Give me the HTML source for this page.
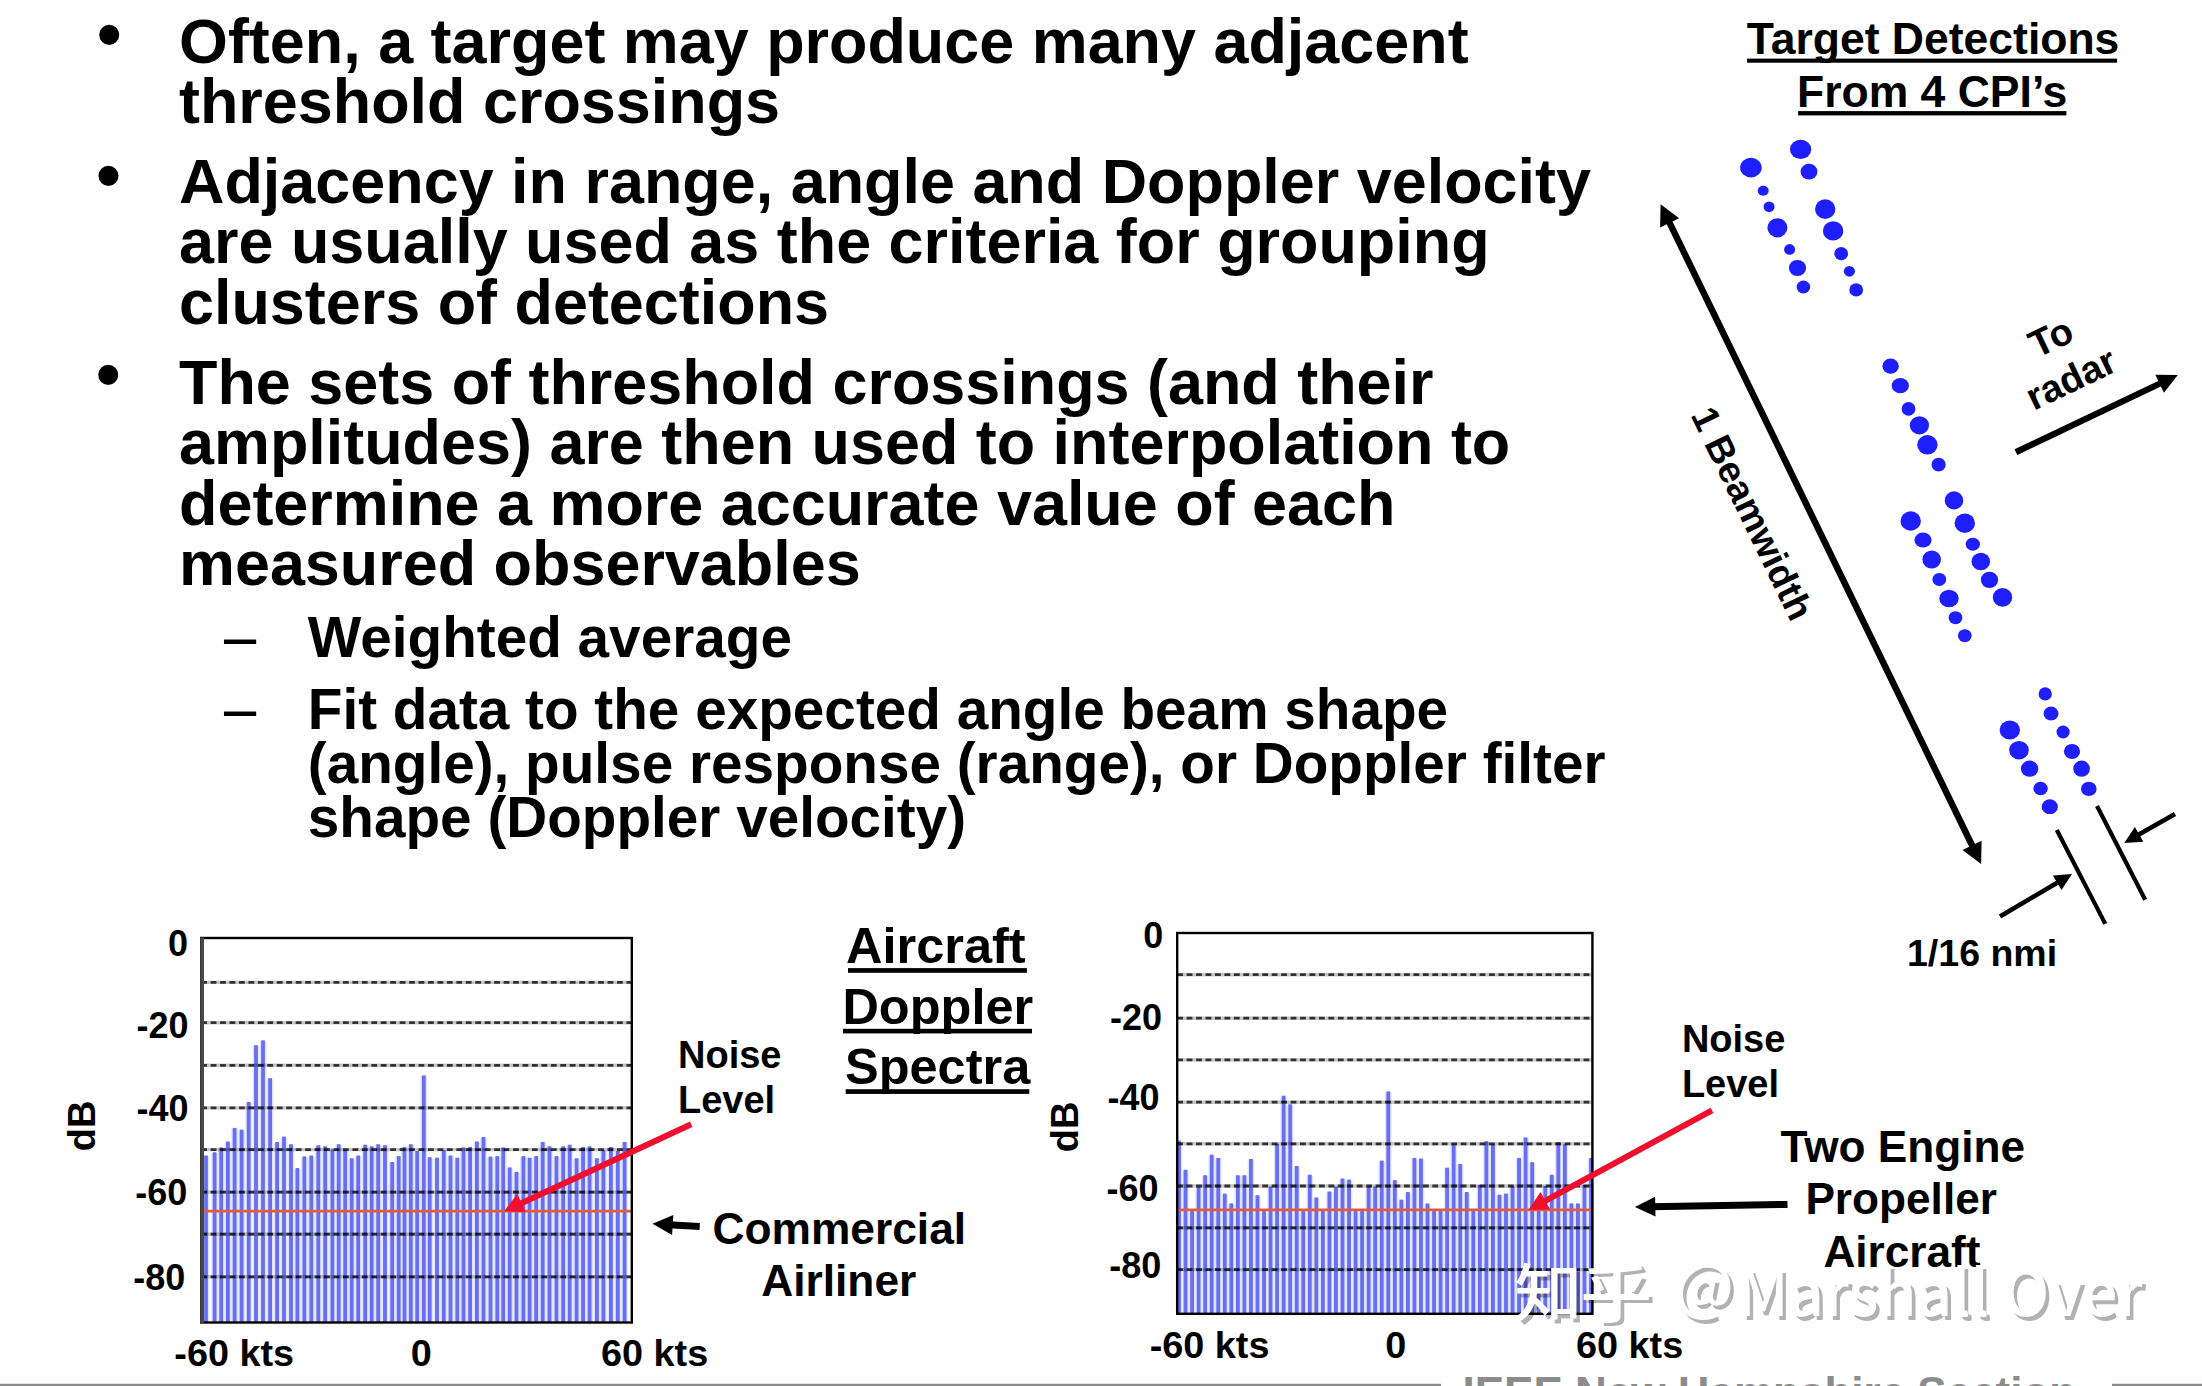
<!DOCTYPE html>
<html><head><meta charset="utf-8"><title>Target Detections</title>
<style>html,body{margin:0;padding:0;background:#fff;width:2202px;height:1386px;overflow:hidden}svg{display:block}</style>
</head><body>
<svg width="2202" height="1386" viewBox="0 0 2202 1386">
<defs><clipPath id="dclip"><rect x="2030" y="790" width="40" height="24"/></clipPath></defs>
<rect width="2202" height="1386" fill="#fff"/>
<rect x="202.64" y="1156.5" width="6.72" height="166.0" fill="#dfe5ff"/><rect x="211.24" y="1153.3" width="6.72" height="169.2" fill="#dfe5ff"/><rect x="217.84" y="1148.4" width="6.72" height="174.1" fill="#dfe5ff"/><rect x="224.54" y="1142.5" width="6.72" height="180.0" fill="#dfe5ff"/><rect x="231.24" y="1128.9" width="6.72" height="193.6" fill="#dfe5ff"/><rect x="238.24" y="1130.6" width="6.72" height="191.9" fill="#dfe5ff"/><rect x="245.34" y="1103.0" width="6.72" height="219.5" fill="#dfe5ff"/><rect x="252.64" y="1046.2" width="6.72" height="276.3" fill="#dfe5ff"/><rect x="259.64" y="1041.3" width="6.72" height="281.2" fill="#dfe5ff"/><rect x="266.74" y="1079.2" width="6.72" height="243.3" fill="#dfe5ff"/><rect x="273.74" y="1143.0" width="6.72" height="179.5" fill="#dfe5ff"/><rect x="280.64" y="1137.6" width="6.72" height="184.9" fill="#dfe5ff"/><rect x="287.64" y="1145.2" width="6.72" height="177.3" fill="#dfe5ff"/><rect x="294.04" y="1169.0" width="6.72" height="153.5" fill="#dfe5ff"/><rect x="301.04" y="1157.4" width="6.72" height="165.1" fill="#dfe5ff"/><rect x="307.94" y="1156.5" width="6.72" height="166.0" fill="#dfe5ff"/><rect x="314.94" y="1146.2" width="6.72" height="176.3" fill="#dfe5ff"/><rect x="321.84" y="1147.3" width="6.72" height="175.2" fill="#dfe5ff"/><rect x="329.04" y="1150.6" width="6.72" height="171.9" fill="#dfe5ff"/><rect x="335.34" y="1145.2" width="6.72" height="177.3" fill="#dfe5ff"/><rect x="341.84" y="1151.1" width="6.72" height="171.4" fill="#dfe5ff"/><rect x="348.34" y="1159.2" width="6.72" height="163.3" fill="#dfe5ff"/><rect x="354.84" y="1156.5" width="6.72" height="166.0" fill="#dfe5ff"/><rect x="361.84" y="1145.7" width="6.72" height="176.8" fill="#dfe5ff"/><rect x="368.34" y="1147.3" width="6.72" height="175.2" fill="#dfe5ff"/><rect x="374.84" y="1145.2" width="6.72" height="177.3" fill="#dfe5ff"/><rect x="381.64" y="1146.2" width="6.72" height="176.3" fill="#dfe5ff"/><rect x="388.84" y="1163.0" width="6.72" height="159.5" fill="#dfe5ff"/><rect x="395.34" y="1157.1" width="6.72" height="165.4" fill="#dfe5ff"/><rect x="401.14" y="1147.9" width="6.72" height="174.6" fill="#dfe5ff"/><rect x="407.44" y="1145.2" width="6.72" height="177.3" fill="#dfe5ff"/><rect x="413.84" y="1152.0" width="6.72" height="170.5" fill="#dfe5ff"/><rect x="420.44" y="1076.4" width="6.72" height="246.1" fill="#dfe5ff"/><rect x="426.34" y="1158.2" width="6.72" height="164.3" fill="#dfe5ff"/><rect x="433.64" y="1158.7" width="6.72" height="163.8" fill="#dfe5ff"/><rect x="440.44" y="1151.1" width="6.72" height="171.4" fill="#dfe5ff"/><rect x="447.14" y="1156.5" width="6.72" height="166.0" fill="#dfe5ff"/><rect x="453.94" y="1158.7" width="6.72" height="163.8" fill="#dfe5ff"/><rect x="460.14" y="1148.4" width="6.72" height="174.1" fill="#dfe5ff"/><rect x="466.74" y="1147.9" width="6.72" height="174.6" fill="#dfe5ff"/><rect x="473.54" y="1142.5" width="6.72" height="180.0" fill="#dfe5ff"/><rect x="480.14" y="1138.1" width="6.72" height="184.4" fill="#dfe5ff"/><rect x="487.14" y="1157.6" width="6.72" height="164.9" fill="#dfe5ff"/><rect x="493.94" y="1157.1" width="6.72" height="165.4" fill="#dfe5ff"/><rect x="499.84" y="1148.4" width="6.72" height="174.1" fill="#dfe5ff"/><rect x="506.34" y="1168.4" width="6.72" height="154.1" fill="#dfe5ff"/><rect x="513.14" y="1172.8" width="6.72" height="149.7" fill="#dfe5ff"/><rect x="520.04" y="1157.1" width="6.72" height="165.4" fill="#dfe5ff"/><rect x="526.24" y="1158.7" width="6.72" height="163.8" fill="#dfe5ff"/><rect x="532.84" y="1157.1" width="6.72" height="165.4" fill="#dfe5ff"/><rect x="539.34" y="1143.0" width="6.72" height="179.5" fill="#dfe5ff"/><rect x="546.14" y="1147.3" width="6.72" height="175.2" fill="#dfe5ff"/><rect x="553.14" y="1157.1" width="6.72" height="165.4" fill="#dfe5ff"/><rect x="559.84" y="1147.3" width="6.72" height="175.2" fill="#dfe5ff"/><rect x="566.34" y="1145.7" width="6.72" height="176.8" fill="#dfe5ff"/><rect x="573.24" y="1159.2" width="6.72" height="163.3" fill="#dfe5ff"/><rect x="579.74" y="1147.9" width="6.72" height="174.6" fill="#dfe5ff"/><rect x="586.24" y="1147.3" width="6.72" height="175.2" fill="#dfe5ff"/><rect x="593.54" y="1159.2" width="6.72" height="163.3" fill="#dfe5ff"/><rect x="600.04" y="1151.1" width="6.72" height="171.4" fill="#dfe5ff"/><rect x="607.54" y="1147.9" width="6.72" height="174.6" fill="#dfe5ff"/><rect x="614.44" y="1152.0" width="6.72" height="170.5" fill="#dfe5ff"/><rect x="621.24" y="1143.0" width="6.72" height="179.5" fill="#dfe5ff"/><rect x="204.10" y="1155.5" width="3.8" height="167.0" fill="#6a6ef0"/><rect x="212.70" y="1152.3" width="3.8" height="170.2" fill="#6a6ef0"/><rect x="219.30" y="1147.4" width="3.8" height="175.1" fill="#6a6ef0"/><rect x="226.00" y="1141.5" width="3.8" height="181.0" fill="#6a6ef0"/><rect x="232.70" y="1127.9" width="3.8" height="194.6" fill="#6a6ef0"/><rect x="239.70" y="1129.6" width="3.8" height="192.9" fill="#6a6ef0"/><rect x="246.80" y="1102.0" width="3.8" height="220.5" fill="#6a6ef0"/><rect x="254.10" y="1045.2" width="3.8" height="277.3" fill="#6a6ef0"/><rect x="261.10" y="1040.3" width="3.8" height="282.2" fill="#6a6ef0"/><rect x="268.20" y="1078.2" width="3.8" height="244.3" fill="#6a6ef0"/><rect x="275.20" y="1142.0" width="3.8" height="180.5" fill="#6a6ef0"/><rect x="282.10" y="1136.6" width="3.8" height="185.9" fill="#6a6ef0"/><rect x="289.10" y="1144.2" width="3.8" height="178.3" fill="#6a6ef0"/><rect x="295.50" y="1168.0" width="3.8" height="154.5" fill="#6a6ef0"/><rect x="302.50" y="1156.4" width="3.8" height="166.1" fill="#6a6ef0"/><rect x="309.40" y="1155.5" width="3.8" height="167.0" fill="#6a6ef0"/><rect x="316.40" y="1145.2" width="3.8" height="177.3" fill="#6a6ef0"/><rect x="323.30" y="1146.3" width="3.8" height="176.2" fill="#6a6ef0"/><rect x="330.50" y="1149.6" width="3.8" height="172.9" fill="#6a6ef0"/><rect x="336.80" y="1144.2" width="3.8" height="178.3" fill="#6a6ef0"/><rect x="343.30" y="1150.1" width="3.8" height="172.4" fill="#6a6ef0"/><rect x="349.80" y="1158.2" width="3.8" height="164.3" fill="#6a6ef0"/><rect x="356.30" y="1155.5" width="3.8" height="167.0" fill="#6a6ef0"/><rect x="363.30" y="1144.7" width="3.8" height="177.8" fill="#6a6ef0"/><rect x="369.80" y="1146.3" width="3.8" height="176.2" fill="#6a6ef0"/><rect x="376.30" y="1144.2" width="3.8" height="178.3" fill="#6a6ef0"/><rect x="383.10" y="1145.2" width="3.8" height="177.3" fill="#6a6ef0"/><rect x="390.30" y="1162.0" width="3.8" height="160.5" fill="#6a6ef0"/><rect x="396.80" y="1156.1" width="3.8" height="166.4" fill="#6a6ef0"/><rect x="402.60" y="1146.9" width="3.8" height="175.6" fill="#6a6ef0"/><rect x="408.90" y="1144.2" width="3.8" height="178.3" fill="#6a6ef0"/><rect x="415.30" y="1151.0" width="3.8" height="171.5" fill="#6a6ef0"/><rect x="421.90" y="1075.4" width="3.8" height="247.1" fill="#6a6ef0"/><rect x="427.80" y="1157.2" width="3.8" height="165.3" fill="#6a6ef0"/><rect x="435.10" y="1157.7" width="3.8" height="164.8" fill="#6a6ef0"/><rect x="441.90" y="1150.1" width="3.8" height="172.4" fill="#6a6ef0"/><rect x="448.60" y="1155.5" width="3.8" height="167.0" fill="#6a6ef0"/><rect x="455.40" y="1157.7" width="3.8" height="164.8" fill="#6a6ef0"/><rect x="461.60" y="1147.4" width="3.8" height="175.1" fill="#6a6ef0"/><rect x="468.20" y="1146.9" width="3.8" height="175.6" fill="#6a6ef0"/><rect x="475.00" y="1141.5" width="3.8" height="181.0" fill="#6a6ef0"/><rect x="481.60" y="1137.1" width="3.8" height="185.4" fill="#6a6ef0"/><rect x="488.60" y="1156.6" width="3.8" height="165.9" fill="#6a6ef0"/><rect x="495.40" y="1156.1" width="3.8" height="166.4" fill="#6a6ef0"/><rect x="501.30" y="1147.4" width="3.8" height="175.1" fill="#6a6ef0"/><rect x="507.80" y="1167.4" width="3.8" height="155.1" fill="#6a6ef0"/><rect x="514.60" y="1171.8" width="3.8" height="150.7" fill="#6a6ef0"/><rect x="521.50" y="1156.1" width="3.8" height="166.4" fill="#6a6ef0"/><rect x="527.70" y="1157.7" width="3.8" height="164.8" fill="#6a6ef0"/><rect x="534.30" y="1156.1" width="3.8" height="166.4" fill="#6a6ef0"/><rect x="540.80" y="1142.0" width="3.8" height="180.5" fill="#6a6ef0"/><rect x="547.60" y="1146.3" width="3.8" height="176.2" fill="#6a6ef0"/><rect x="554.60" y="1156.1" width="3.8" height="166.4" fill="#6a6ef0"/><rect x="561.30" y="1146.3" width="3.8" height="176.2" fill="#6a6ef0"/><rect x="567.80" y="1144.7" width="3.8" height="177.8" fill="#6a6ef0"/><rect x="574.70" y="1158.2" width="3.8" height="164.3" fill="#6a6ef0"/><rect x="581.20" y="1146.9" width="3.8" height="175.6" fill="#6a6ef0"/><rect x="587.70" y="1146.3" width="3.8" height="176.2" fill="#6a6ef0"/><rect x="595.00" y="1158.2" width="3.8" height="164.3" fill="#6a6ef0"/><rect x="601.50" y="1150.1" width="3.8" height="172.4" fill="#6a6ef0"/><rect x="609.00" y="1146.9" width="3.8" height="175.6" fill="#6a6ef0"/><rect x="615.90" y="1151.0" width="3.8" height="171.5" fill="#6a6ef0"/><rect x="622.70" y="1142.0" width="3.8" height="180.5" fill="#6a6ef0"/><line x1="201.2" y1="982.4" x2="631.8" y2="982.4" stroke="#000" stroke-opacity="0.22" stroke-width="3.4"/><line x1="201.2" y1="982.4" x2="631.8" y2="982.4" stroke="#000" stroke-opacity="0.75" stroke-width="2.8" stroke-dasharray="5.8 3.65"/><line x1="201.2" y1="1022.7" x2="631.8" y2="1022.7" stroke="#000" stroke-opacity="0.22" stroke-width="3.4"/><line x1="201.2" y1="1022.7" x2="631.8" y2="1022.7" stroke="#000" stroke-opacity="0.75" stroke-width="2.8" stroke-dasharray="5.8 3.65"/><line x1="201.2" y1="1065.3" x2="631.8" y2="1065.3" stroke="#000" stroke-opacity="0.22" stroke-width="3.4"/><line x1="201.2" y1="1065.3" x2="631.8" y2="1065.3" stroke="#000" stroke-opacity="0.75" stroke-width="2.8" stroke-dasharray="5.8 3.65"/><line x1="201.2" y1="1107.9" x2="631.8" y2="1107.9" stroke="#000" stroke-opacity="0.22" stroke-width="3.4"/><line x1="201.2" y1="1107.9" x2="631.8" y2="1107.9" stroke="#000" stroke-opacity="0.75" stroke-width="2.8" stroke-dasharray="5.8 3.65"/><line x1="201.2" y1="1149.6" x2="631.8" y2="1149.6" stroke="#000" stroke-opacity="0.22" stroke-width="3.4"/><line x1="201.2" y1="1149.6" x2="631.8" y2="1149.6" stroke="#000" stroke-opacity="0.75" stroke-width="2.8" stroke-dasharray="5.8 3.65"/><line x1="201.2" y1="1192.1" x2="631.8" y2="1192.1" stroke="#000" stroke-opacity="0.22" stroke-width="3.4"/><line x1="201.2" y1="1192.1" x2="631.8" y2="1192.1" stroke="#000" stroke-opacity="0.75" stroke-width="2.8" stroke-dasharray="5.8 3.65"/><line x1="201.2" y1="1234.2" x2="631.8" y2="1234.2" stroke="#000" stroke-opacity="0.22" stroke-width="3.4"/><line x1="201.2" y1="1234.2" x2="631.8" y2="1234.2" stroke="#000" stroke-opacity="0.75" stroke-width="2.8" stroke-dasharray="5.8 3.65"/><line x1="201.2" y1="1276.8" x2="631.8" y2="1276.8" stroke="#000" stroke-opacity="0.22" stroke-width="3.4"/><line x1="201.2" y1="1276.8" x2="631.8" y2="1276.8" stroke="#000" stroke-opacity="0.75" stroke-width="2.8" stroke-dasharray="5.8 3.65"/><line x1="201.2" y1="1211.1" x2="631.8" y2="1211.1" stroke="#e45a3a" stroke-width="2.9"/><rect x="201.2" y="938.0" width="430.59999999999997" height="384.5" fill="none" stroke="#000" stroke-width="2.4"/><rect x="200.2" y="937.6" width="3.8" height="386" fill="#474747"/>
<rect x="1175.73" y="1141.6" width="6.54" height="172.2" fill="#dfe5ff"/><rect x="1182.27" y="1170.8" width="6.54" height="143.0" fill="#dfe5ff"/><rect x="1188.81" y="1212.0" width="6.54" height="101.8" fill="#dfe5ff"/><rect x="1195.35" y="1188.1" width="6.54" height="125.7" fill="#dfe5ff"/><rect x="1201.89" y="1176.2" width="6.54" height="137.6" fill="#dfe5ff"/><rect x="1208.43" y="1155.7" width="6.54" height="158.1" fill="#dfe5ff"/><rect x="1214.97" y="1158.9" width="6.54" height="154.9" fill="#dfe5ff"/><rect x="1221.51" y="1194.6" width="6.54" height="119.2" fill="#dfe5ff"/><rect x="1228.05" y="1204.4" width="6.54" height="109.4" fill="#dfe5ff"/><rect x="1234.59" y="1176.2" width="6.54" height="137.6" fill="#dfe5ff"/><rect x="1241.13" y="1176.2" width="6.54" height="137.6" fill="#dfe5ff"/><rect x="1247.67" y="1160.0" width="6.54" height="153.8" fill="#dfe5ff"/><rect x="1254.21" y="1196.2" width="6.54" height="117.6" fill="#dfe5ff"/><rect x="1260.75" y="1212.0" width="6.54" height="101.8" fill="#dfe5ff"/><rect x="1267.29" y="1187.6" width="6.54" height="126.2" fill="#dfe5ff"/><rect x="1273.83" y="1144.8" width="6.54" height="169.0" fill="#dfe5ff"/><rect x="1280.37" y="1096.7" width="6.54" height="217.1" fill="#dfe5ff"/><rect x="1286.91" y="1105.3" width="6.54" height="208.5" fill="#dfe5ff"/><rect x="1293.45" y="1167.0" width="6.54" height="146.8" fill="#dfe5ff"/><rect x="1299.99" y="1212.0" width="6.54" height="101.8" fill="#dfe5ff"/><rect x="1306.53" y="1175.7" width="6.54" height="138.1" fill="#dfe5ff"/><rect x="1313.07" y="1198.4" width="6.54" height="115.4" fill="#dfe5ff"/><rect x="1319.61" y="1212.0" width="6.54" height="101.8" fill="#dfe5ff"/><rect x="1326.15" y="1192.5" width="6.54" height="121.3" fill="#dfe5ff"/><rect x="1332.69" y="1187.6" width="6.54" height="126.2" fill="#dfe5ff"/><rect x="1339.23" y="1179.5" width="6.54" height="134.3" fill="#dfe5ff"/><rect x="1345.77" y="1180.6" width="6.54" height="133.2" fill="#dfe5ff"/><rect x="1352.31" y="1212.0" width="6.54" height="101.8" fill="#dfe5ff"/><rect x="1358.85" y="1212.0" width="6.54" height="101.8" fill="#dfe5ff"/><rect x="1365.39" y="1187.6" width="6.54" height="126.2" fill="#dfe5ff"/><rect x="1371.93" y="1187.6" width="6.54" height="126.2" fill="#dfe5ff"/><rect x="1378.47" y="1161.6" width="6.54" height="152.2" fill="#dfe5ff"/><rect x="1385.01" y="1092.4" width="6.54" height="221.4" fill="#dfe5ff"/><rect x="1391.55" y="1181.1" width="6.54" height="132.7" fill="#dfe5ff"/><rect x="1398.09" y="1200.6" width="6.54" height="113.2" fill="#dfe5ff"/><rect x="1404.63" y="1193.0" width="6.54" height="120.8" fill="#dfe5ff"/><rect x="1411.17" y="1158.9" width="6.54" height="154.9" fill="#dfe5ff"/><rect x="1417.71" y="1159.5" width="6.54" height="154.3" fill="#dfe5ff"/><rect x="1424.25" y="1204.4" width="6.54" height="109.4" fill="#dfe5ff"/><rect x="1430.79" y="1212.0" width="6.54" height="101.8" fill="#dfe5ff"/><rect x="1437.33" y="1212.0" width="6.54" height="101.8" fill="#dfe5ff"/><rect x="1443.87" y="1168.7" width="6.54" height="145.1" fill="#dfe5ff"/><rect x="1450.41" y="1145.4" width="6.54" height="168.4" fill="#dfe5ff"/><rect x="1456.95" y="1164.9" width="6.54" height="148.9" fill="#dfe5ff"/><rect x="1463.49" y="1193.0" width="6.54" height="120.8" fill="#dfe5ff"/><rect x="1470.03" y="1212.0" width="6.54" height="101.8" fill="#dfe5ff"/><rect x="1476.57" y="1186.0" width="6.54" height="127.8" fill="#dfe5ff"/><rect x="1483.11" y="1142.1" width="6.54" height="171.7" fill="#dfe5ff"/><rect x="1489.65" y="1145.4" width="6.54" height="168.4" fill="#dfe5ff"/><rect x="1496.19" y="1195.7" width="6.54" height="118.1" fill="#dfe5ff"/><rect x="1502.73" y="1194.6" width="6.54" height="119.2" fill="#dfe5ff"/><rect x="1509.27" y="1187.6" width="6.54" height="126.2" fill="#dfe5ff"/><rect x="1515.81" y="1158.9" width="6.54" height="154.9" fill="#dfe5ff"/><rect x="1522.35" y="1138.4" width="6.54" height="175.4" fill="#dfe5ff"/><rect x="1528.89" y="1163.2" width="6.54" height="150.6" fill="#dfe5ff"/><rect x="1535.43" y="1212.0" width="6.54" height="101.8" fill="#dfe5ff"/><rect x="1541.97" y="1187.0" width="6.54" height="126.8" fill="#dfe5ff"/><rect x="1548.51" y="1175.7" width="6.54" height="138.1" fill="#dfe5ff"/><rect x="1555.05" y="1143.2" width="6.54" height="170.6" fill="#dfe5ff"/><rect x="1561.59" y="1145.4" width="6.54" height="168.4" fill="#dfe5ff"/><rect x="1568.13" y="1204.4" width="6.54" height="109.4" fill="#dfe5ff"/><rect x="1574.67" y="1204.4" width="6.54" height="109.4" fill="#dfe5ff"/><rect x="1581.21" y="1186.0" width="6.54" height="127.8" fill="#dfe5ff"/><rect x="1587.75" y="1158.9" width="6.54" height="154.9" fill="#dfe5ff"/><rect x="1177.10" y="1140.6" width="3.8" height="173.2" fill="#6a6ef0"/><rect x="1183.64" y="1169.8" width="3.8" height="144.0" fill="#6a6ef0"/><rect x="1190.18" y="1211.0" width="3.8" height="102.8" fill="#6a6ef0"/><rect x="1196.72" y="1187.1" width="3.8" height="126.7" fill="#6a6ef0"/><rect x="1203.26" y="1175.2" width="3.8" height="138.6" fill="#6a6ef0"/><rect x="1209.80" y="1154.7" width="3.8" height="159.1" fill="#6a6ef0"/><rect x="1216.34" y="1157.9" width="3.8" height="155.9" fill="#6a6ef0"/><rect x="1222.88" y="1193.6" width="3.8" height="120.2" fill="#6a6ef0"/><rect x="1229.42" y="1203.4" width="3.8" height="110.4" fill="#6a6ef0"/><rect x="1235.96" y="1175.2" width="3.8" height="138.6" fill="#6a6ef0"/><rect x="1242.50" y="1175.2" width="3.8" height="138.6" fill="#6a6ef0"/><rect x="1249.04" y="1159.0" width="3.8" height="154.8" fill="#6a6ef0"/><rect x="1255.58" y="1195.2" width="3.8" height="118.6" fill="#6a6ef0"/><rect x="1262.12" y="1211.0" width="3.8" height="102.8" fill="#6a6ef0"/><rect x="1268.66" y="1186.6" width="3.8" height="127.2" fill="#6a6ef0"/><rect x="1275.20" y="1143.8" width="3.8" height="170.0" fill="#6a6ef0"/><rect x="1281.74" y="1095.7" width="3.8" height="218.1" fill="#6a6ef0"/><rect x="1288.28" y="1104.3" width="3.8" height="209.5" fill="#6a6ef0"/><rect x="1294.82" y="1166.0" width="3.8" height="147.8" fill="#6a6ef0"/><rect x="1301.36" y="1211.0" width="3.8" height="102.8" fill="#6a6ef0"/><rect x="1307.90" y="1174.7" width="3.8" height="139.1" fill="#6a6ef0"/><rect x="1314.44" y="1197.4" width="3.8" height="116.4" fill="#6a6ef0"/><rect x="1320.98" y="1211.0" width="3.8" height="102.8" fill="#6a6ef0"/><rect x="1327.52" y="1191.5" width="3.8" height="122.3" fill="#6a6ef0"/><rect x="1334.06" y="1186.6" width="3.8" height="127.2" fill="#6a6ef0"/><rect x="1340.60" y="1178.5" width="3.8" height="135.3" fill="#6a6ef0"/><rect x="1347.14" y="1179.6" width="3.8" height="134.2" fill="#6a6ef0"/><rect x="1353.68" y="1211.0" width="3.8" height="102.8" fill="#6a6ef0"/><rect x="1360.22" y="1211.0" width="3.8" height="102.8" fill="#6a6ef0"/><rect x="1366.76" y="1186.6" width="3.8" height="127.2" fill="#6a6ef0"/><rect x="1373.30" y="1186.6" width="3.8" height="127.2" fill="#6a6ef0"/><rect x="1379.84" y="1160.6" width="3.8" height="153.2" fill="#6a6ef0"/><rect x="1386.38" y="1091.4" width="3.8" height="222.4" fill="#6a6ef0"/><rect x="1392.92" y="1180.1" width="3.8" height="133.7" fill="#6a6ef0"/><rect x="1399.46" y="1199.6" width="3.8" height="114.2" fill="#6a6ef0"/><rect x="1406.00" y="1192.0" width="3.8" height="121.8" fill="#6a6ef0"/><rect x="1412.54" y="1157.9" width="3.8" height="155.9" fill="#6a6ef0"/><rect x="1419.08" y="1158.5" width="3.8" height="155.3" fill="#6a6ef0"/><rect x="1425.62" y="1203.4" width="3.8" height="110.4" fill="#6a6ef0"/><rect x="1432.16" y="1211.0" width="3.8" height="102.8" fill="#6a6ef0"/><rect x="1438.70" y="1211.0" width="3.8" height="102.8" fill="#6a6ef0"/><rect x="1445.24" y="1167.7" width="3.8" height="146.1" fill="#6a6ef0"/><rect x="1451.78" y="1144.4" width="3.8" height="169.4" fill="#6a6ef0"/><rect x="1458.32" y="1163.9" width="3.8" height="149.9" fill="#6a6ef0"/><rect x="1464.86" y="1192.0" width="3.8" height="121.8" fill="#6a6ef0"/><rect x="1471.40" y="1211.0" width="3.8" height="102.8" fill="#6a6ef0"/><rect x="1477.94" y="1185.0" width="3.8" height="128.8" fill="#6a6ef0"/><rect x="1484.48" y="1141.1" width="3.8" height="172.7" fill="#6a6ef0"/><rect x="1491.02" y="1144.4" width="3.8" height="169.4" fill="#6a6ef0"/><rect x="1497.56" y="1194.7" width="3.8" height="119.1" fill="#6a6ef0"/><rect x="1504.10" y="1193.6" width="3.8" height="120.2" fill="#6a6ef0"/><rect x="1510.64" y="1186.6" width="3.8" height="127.2" fill="#6a6ef0"/><rect x="1517.18" y="1157.9" width="3.8" height="155.9" fill="#6a6ef0"/><rect x="1523.72" y="1137.4" width="3.8" height="176.4" fill="#6a6ef0"/><rect x="1530.26" y="1162.2" width="3.8" height="151.6" fill="#6a6ef0"/><rect x="1536.80" y="1211.0" width="3.8" height="102.8" fill="#6a6ef0"/><rect x="1543.34" y="1186.0" width="3.8" height="127.8" fill="#6a6ef0"/><rect x="1549.88" y="1174.7" width="3.8" height="139.1" fill="#6a6ef0"/><rect x="1556.42" y="1142.2" width="3.8" height="171.6" fill="#6a6ef0"/><rect x="1562.96" y="1144.4" width="3.8" height="169.4" fill="#6a6ef0"/><rect x="1569.50" y="1203.4" width="3.8" height="110.4" fill="#6a6ef0"/><rect x="1576.04" y="1203.4" width="3.8" height="110.4" fill="#6a6ef0"/><rect x="1582.58" y="1185.0" width="3.8" height="128.8" fill="#6a6ef0"/><rect x="1589.12" y="1157.9" width="3.8" height="155.9" fill="#6a6ef0"/><line x1="1177.2" y1="974.7" x2="1592.4" y2="974.7" stroke="#000" stroke-opacity="0.22" stroke-width="3.4"/><line x1="1177.2" y1="974.7" x2="1592.4" y2="974.7" stroke="#000" stroke-opacity="0.75" stroke-width="2.8" stroke-dasharray="5.8 3.65"/><line x1="1177.2" y1="1018.2" x2="1592.4" y2="1018.2" stroke="#000" stroke-opacity="0.22" stroke-width="3.4"/><line x1="1177.2" y1="1018.2" x2="1592.4" y2="1018.2" stroke="#000" stroke-opacity="0.75" stroke-width="2.8" stroke-dasharray="5.8 3.65"/><line x1="1177.2" y1="1059.9" x2="1592.4" y2="1059.9" stroke="#000" stroke-opacity="0.22" stroke-width="3.4"/><line x1="1177.2" y1="1059.9" x2="1592.4" y2="1059.9" stroke="#000" stroke-opacity="0.75" stroke-width="2.8" stroke-dasharray="5.8 3.65"/><line x1="1177.2" y1="1102.2" x2="1592.4" y2="1102.2" stroke="#000" stroke-opacity="0.22" stroke-width="3.4"/><line x1="1177.2" y1="1102.2" x2="1592.4" y2="1102.2" stroke="#000" stroke-opacity="0.75" stroke-width="2.8" stroke-dasharray="5.8 3.65"/><line x1="1177.2" y1="1143.8" x2="1592.4" y2="1143.8" stroke="#000" stroke-opacity="0.22" stroke-width="3.4"/><line x1="1177.2" y1="1143.8" x2="1592.4" y2="1143.8" stroke="#000" stroke-opacity="0.75" stroke-width="2.8" stroke-dasharray="5.8 3.65"/><line x1="1177.2" y1="1186.0" x2="1592.4" y2="1186.0" stroke="#000" stroke-opacity="0.22" stroke-width="3.4"/><line x1="1177.2" y1="1186.0" x2="1592.4" y2="1186.0" stroke="#000" stroke-opacity="0.75" stroke-width="2.8" stroke-dasharray="5.8 3.65"/><line x1="1177.2" y1="1227.8" x2="1592.4" y2="1227.8" stroke="#000" stroke-opacity="0.22" stroke-width="3.4"/><line x1="1177.2" y1="1227.8" x2="1592.4" y2="1227.8" stroke="#000" stroke-opacity="0.75" stroke-width="2.8" stroke-dasharray="5.8 3.65"/><line x1="1177.2" y1="1269.6" x2="1592.4" y2="1269.6" stroke="#000" stroke-opacity="0.22" stroke-width="3.4"/><line x1="1177.2" y1="1269.6" x2="1592.4" y2="1269.6" stroke="#000" stroke-opacity="0.75" stroke-width="2.8" stroke-dasharray="5.8 3.65"/><line x1="1177.2" y1="1209.9" x2="1592.4" y2="1209.9" stroke="#e45a3a" stroke-width="2.9"/><rect x="1177.2" y="933.0" width="415.20000000000005" height="380.79999999999995" fill="none" stroke="#000" stroke-width="2.4"/>
<g fill="#1e1eff"><ellipse cx="1750.9" cy="167.6" rx="10.8" ry="9.8"/><ellipse cx="1763.2" cy="190.7" rx="5.5" ry="5.0"/><ellipse cx="1769.1" cy="206.7" rx="5.5" ry="5.2"/><ellipse cx="1777.4" cy="227.8" rx="10.0" ry="9.6"/><ellipse cx="1789.6" cy="249.4" rx="5.5" ry="5.3"/><ellipse cx="1797.5" cy="268.0" rx="8.6" ry="8.0"/><ellipse cx="1803.4" cy="287.0" rx="6.8" ry="6.5"/><ellipse cx="1800.6" cy="149.4" rx="10.6" ry="9.6"/><ellipse cx="1809.0" cy="171.7" rx="8.4" ry="7.9"/><ellipse cx="1825.2" cy="209.1" rx="10.2" ry="9.8"/><ellipse cx="1833.1" cy="230.9" rx="10.2" ry="9.6"/><ellipse cx="1841.2" cy="253.7" rx="6.9" ry="6.6"/><ellipse cx="1849.4" cy="271.3" rx="5.6" ry="5.4"/><ellipse cx="1856.2" cy="289.9" rx="6.9" ry="6.6"/><ellipse cx="1890.6" cy="366.2" rx="8.2" ry="7.6"/><ellipse cx="1900.3" cy="385.7" rx="8.6" ry="7.6"/><ellipse cx="1908.5" cy="408.9" rx="6.9" ry="6.8"/><ellipse cx="1919.4" cy="425.3" rx="9.6" ry="9.1"/><ellipse cx="1927.4" cy="444.8" rx="10.2" ry="9.7"/><ellipse cx="1938.6" cy="464.7" rx="7.1" ry="6.9"/><ellipse cx="1910.7" cy="521.0" rx="10.2" ry="9.7"/><ellipse cx="1923.0" cy="540.0" rx="8.6" ry="7.6"/><ellipse cx="1931.7" cy="559.5" rx="9.3" ry="9.1"/><ellipse cx="1939.3" cy="579.4" rx="6.9" ry="6.5"/><ellipse cx="1949.0" cy="598.5" rx="9.7" ry="8.7"/><ellipse cx="1955.5" cy="617.7" rx="6.9" ry="6.5"/><ellipse cx="1964.8" cy="635.7" rx="6.9" ry="6.5"/><ellipse cx="1954.0" cy="500.4" rx="9.3" ry="9.1"/><ellipse cx="1964.8" cy="523.2" rx="10.2" ry="9.7"/><ellipse cx="1972.8" cy="544.2" rx="7.1" ry="6.5"/><ellipse cx="1980.8" cy="561.5" rx="9.3" ry="8.7"/><ellipse cx="1989.5" cy="579.9" rx="8.6" ry="8.2"/><ellipse cx="2002.5" cy="597.4" rx="9.7" ry="9.3"/><ellipse cx="2009.8" cy="730.0" rx="10.2" ry="9.4"/><ellipse cx="2019.0" cy="750.2" rx="9.8" ry="9.3"/><ellipse cx="2029.6" cy="768.7" rx="8.7" ry="8.1"/><ellipse cx="2040.6" cy="788.5" rx="7.2" ry="6.7"/><ellipse cx="2049.8" cy="806.8" rx="8.1" ry="7.5" clip-path="url(#dclip)"/><ellipse cx="2045.2" cy="693.9" rx="6.6" ry="6.6"/><ellipse cx="2051.0" cy="713.6" rx="7.5" ry="7.0"/><ellipse cx="2063.1" cy="732.0" rx="6.6" ry="6.4"/><ellipse cx="2072.0" cy="751.4" rx="8.1" ry="7.5"/><ellipse cx="2081.6" cy="768.7" rx="8.3" ry="8.1"/><ellipse cx="2088.8" cy="788.9" rx="7.8" ry="7.2"/></g>
<g fill="#000" stroke="none"><polygon points="1981.1,864.1 1981.6,840.8 1962.5,850.1"/><polygon points="1660.6,204.2 1660.1,227.5 1679.2,218.2"/></g><line x1="1667.8" y1="219.1" x2="1973.9" y2="849.2" stroke="#000" stroke-width="6.5"/><g fill="#000" stroke="none"><polygon points="2177.8,375.1 2155.3,374.7 2163.9,392.8"/></g><line x1="2015.9" y1="452.1" x2="2163.2" y2="382.0" stroke="#000" stroke-width="6.3"/><g fill="#000" stroke="none"><polygon points="2072.0,874.0 2052.9,875.4 2061.5,890.1"/></g><line x1="2000.0" y1="916.4" x2="2060.1" y2="881.0" stroke="#000" stroke-width="4.6"/><g fill="#000" stroke="none"><polygon points="2124.2,842.9 2143.4,841.8 2134.9,827.0"/></g><line x1="2175.0" y1="814.0" x2="2136.2" y2="836.1" stroke="#000" stroke-width="4.6"/><g fill="#000" stroke="none"><polygon points="652.5,1223.8 672.1,1235.0 673.3,1215.0"/></g><line x1="699.7" y1="1226.6" x2="668.6" y2="1224.8" stroke="#000" stroke-width="7.0"/><g fill="#000" stroke="none"><polygon points="1634.9,1207.1 1655.5,1216.6 1655.1,1196.8"/></g><line x1="1787.5" y1="1204.4" x2="1651.2" y2="1206.8" stroke="#000" stroke-width="7.0"/>
<line x1="2056.8" y1="830" x2="2105.3" y2="923.9" stroke="#000" stroke-width="4.2"/><line x1="2097" y1="806" x2="2145.2" y2="899.7" stroke="#000" stroke-width="4.2"/>
<g fill="#f0102e" stroke="none"><polygon points="504.3,1211.1 525.7,1212.2 517.3,1194.0"/></g><line x1="691.2" y1="1124.3" x2="518.1" y2="1204.7" stroke="#f0102e" stroke-width="6.0"/><g fill="#f0102e" stroke="none"><polygon points="1528.6,1209.8 1550.1,1209.5 1540.5,1192.0"/></g><line x1="1712.0" y1="1110.4" x2="1542.0" y2="1202.6" stroke="#f0102e" stroke-width="6.0"/>
<rect x="1747.1" y="58.6" width="370.0" height="4.1" fill="#000"/><rect x="1798.1" y="111.1" width="268.3" height="4.3" fill="#000"/><rect x="848.0" y="968.1" width="178.9" height="4.7" fill="#000"/><rect x="843.0" y="1028.8" width="189.0" height="4.6" fill="#000"/><rect x="845.7" y="1089.2" width="183.6" height="4.7" fill="#000"/>
<text x="179.00" y="62.70" font-family="Liberation Sans" font-weight="bold" font-size="62.9" fill="#000">Often, a target may produce many adjacent</text>
<text x="179.00" y="122.80" font-family="Liberation Sans" font-weight="bold" font-size="62.9" fill="#000">threshold crossings</text>
<text x="179.00" y="202.80" font-family="Liberation Sans" font-weight="bold" font-size="62.9" fill="#000">Adjacency in range, angle and Doppler velocity</text>
<text x="179.00" y="262.70" font-family="Liberation Sans" font-weight="bold" font-size="62.9" fill="#000">are usually used as the criteria for grouping</text>
<text x="179.00" y="323.50" font-family="Liberation Sans" font-weight="bold" font-size="62.9" fill="#000">clusters of detections</text>
<text x="179.00" y="403.80" font-family="Liberation Sans" font-weight="bold" font-size="62.9" fill="#000">The sets of threshold crossings (and their</text>
<text x="179.00" y="463.70" font-family="Liberation Sans" font-weight="bold" font-size="62.9" fill="#000">amplitudes) are then used to interpolation to</text>
<text x="179.00" y="524.70" font-family="Liberation Sans" font-weight="bold" font-size="62.9" fill="#000">determine a more accurate value of each</text>
<text x="179.00" y="584.70" font-family="Liberation Sans" font-weight="bold" font-size="62.9" fill="#000">measured observables</text>
<text x="307.80" y="657.40" font-family="Liberation Sans" font-weight="bold" font-size="56.7" fill="#000">Weighted average</text>
<text x="307.80" y="729.00" font-family="Liberation Sans" font-weight="bold" font-size="56.7" fill="#000">Fit data to the expected angle beam shape</text>
<text x="307.80" y="783.10" font-family="Liberation Sans" font-weight="bold" font-size="56.7" fill="#000">(angle), pulse response (range), or Doppler filter</text>
<text x="307.80" y="837.20" font-family="Liberation Sans" font-weight="bold" font-size="56.7" fill="#000">shape (Doppler velocity)</text>
<text x="97.00" y="58.10" font-family="Liberation Sans" font-weight="bold" font-size="70" fill="#000">•</text>
<text x="96.30" y="198.70" font-family="Liberation Sans" font-weight="bold" font-size="70" fill="#000">•</text>
<text x="95.90" y="398.40" font-family="Liberation Sans" font-weight="bold" font-size="70" fill="#000">•</text>
<text x="222.50" y="659.00" transform="translate(240.00,642.00) scale(1.032,0.72) translate(-240.00,-642.00)" font-family="Liberation Sans" font-weight="bold" font-size="63" fill="#000">–</text>
<text x="222.50" y="730.60" transform="translate(240.00,713.60) scale(1.032,0.72) translate(-240.00,-713.60)" font-family="Liberation Sans" font-weight="bold" font-size="63" fill="#000">–</text>
<text x="1746.80" y="54.00" font-family="Liberation Sans" font-weight="bold" font-size="44.5" fill="#000">Target Detections</text>
<text x="1797.00" y="106.70" font-family="Liberation Sans" font-weight="bold" font-size="44.5" fill="#000">From 4 CPI’s</text>
<text x="846.00" y="962.80" font-family="Liberation Sans" font-weight="bold" font-size="50.5" fill="#000">Aircraft</text>
<text x="842.40" y="1023.80" font-family="Liberation Sans" font-weight="bold" font-size="50.5" fill="#000">Doppler</text>
<text x="845.00" y="1083.90" font-family="Liberation Sans" font-weight="bold" font-size="50.5" fill="#000">Spectra</text>
<text x="678.00" y="1067.60" font-family="Liberation Sans" font-weight="bold" font-size="38" fill="#000">Noise</text>
<text x="678.00" y="1113.00" font-family="Liberation Sans" font-weight="bold" font-size="38" fill="#000">Level</text>
<text x="1681.90" y="1051.80" font-family="Liberation Sans" font-weight="bold" font-size="38" fill="#000">Noise</text>
<text x="1681.90" y="1096.70" font-family="Liberation Sans" font-weight="bold" font-size="38" fill="#000">Level</text>
<text x="712.50" y="1244.00" font-family="Liberation Sans" font-weight="bold" font-size="44.3" fill="#000">Commercial</text>
<text x="761.20" y="1295.50" font-family="Liberation Sans" font-weight="bold" font-size="44.3" fill="#000">Airliner</text>
<text x="1780.50" y="1162.10" font-family="Liberation Sans" font-weight="bold" font-size="44.2" fill="#000">Two Engine</text>
<text x="1805.40" y="1213.90" font-family="Liberation Sans" font-weight="bold" font-size="44.2" fill="#000">Propeller</text>
<text x="1823.40" y="1266.50" font-family="Liberation Sans" font-weight="bold" font-size="44.2" fill="#000">Aircraft</text>
<text x="1907.00" y="965.60" font-family="Liberation Sans" font-weight="bold" font-size="37.5" fill="#000">1/16 nmi</text>
<text x="168.00" y="955.50" font-family="Liberation Sans" font-weight="bold" font-size="36" fill="#000">0</text>
<text x="136.50" y="1037.50" font-family="Liberation Sans" font-weight="bold" font-size="36" fill="#000">-20</text>
<text x="136.50" y="1121.00" font-family="Liberation Sans" font-weight="bold" font-size="36" fill="#000">-40</text>
<text x="135.20" y="1204.70" font-family="Liberation Sans" font-weight="bold" font-size="36" fill="#000">-60</text>
<text x="133.20" y="1289.50" font-family="Liberation Sans" font-weight="bold" font-size="36" fill="#000">-80</text>
<text x="1143.30" y="948.00" font-family="Liberation Sans" font-weight="bold" font-size="36" fill="#000">0</text>
<text x="1109.90" y="1030.00" font-family="Liberation Sans" font-weight="bold" font-size="36" fill="#000">-20</text>
<text x="1107.60" y="1109.50" font-family="Liberation Sans" font-weight="bold" font-size="36" fill="#000">-40</text>
<text x="1106.50" y="1200.80" font-family="Liberation Sans" font-weight="bold" font-size="36" fill="#000">-60</text>
<text x="1109.30" y="1278.00" font-family="Liberation Sans" font-weight="bold" font-size="36" fill="#000">-80</text>
<text x="174.30" y="1365.80" font-family="Liberation Sans" font-weight="bold" font-size="37.8" fill="#000">-60 kts</text>
<text x="410.80" y="1365.80" font-family="Liberation Sans" font-weight="bold" font-size="37.8" fill="#000">0</text>
<text x="601.00" y="1365.80" font-family="Liberation Sans" font-weight="bold" font-size="37.8" fill="#000">60 kts</text>
<text x="1149.70" y="1357.60" font-family="Liberation Sans" font-weight="bold" font-size="37.8" fill="#000">-60 kts</text>
<text x="1385.20" y="1357.60" font-family="Liberation Sans" font-weight="bold" font-size="37.8" fill="#000">0</text>
<text x="1576.00" y="1357.60" font-family="Liberation Sans" font-weight="bold" font-size="37.8" fill="#000">60 kts</text>
<text x="-25.00" y="14.00" transform="translate(80.80,1126.20) rotate(-90)" font-family="Liberation Sans" font-weight="bold" font-size="38" fill="#000">dB</text>
<text x="-25.00" y="14.00" transform="translate(1063.90,1127.20) rotate(-90)" font-family="Liberation Sans" font-weight="bold" font-size="38" fill="#000">dB</text>
<text x="-115.50" y="13.50" transform="translate(1752.80,513.00) rotate(64.1)" font-family="Liberation Sans" font-weight="bold" font-size="37.5" fill="#000">1 Beamwidth</text>
<text x="-21.00" y="13.50" transform="translate(2050.00,337.30) rotate(-25.5)" font-family="Liberation Sans" font-weight="bold" font-size="38" fill="#000">To</text>
<text x="-48.50" y="14.00" transform="translate(2071.40,377.40) rotate(-25.5)" font-family="Liberation Sans" font-weight="bold" font-size="38" fill="#000">radar</text>
<text x="1462.50" y="1407.70" font-family="Liberation Sans" font-weight="bold" font-size="44" fill="#8c8c8c">IEEE New Hampshire Section</text>
<rect x="0" y="1383.8" width="1441" height="2.4" fill="#8c8c8c"/><rect x="2112" y="1383.8" width="90" height="2.4" fill="#8c8c8c"/>
<text transform="translate(1518.08,1319.78) scale(1.060,0.970)" x="0" y="0" font-family="Noto Sans CJK SC" font-weight="500" font-size="64" fill="#000" fill-opacity="0.3">知</text><text transform="translate(1583.71,1320.31) scale(1.129,0.998)" x="0" y="0" font-family="Noto Sans CJK SC" font-weight="500" font-size="64" fill="#000" fill-opacity="0.3">乎</text><text transform="translate(1678.35,1312.67) scale(0.950,0.969)" x="0" y="0" font-family="Noto Sans CJK SC" font-weight="500" font-size="64" fill="#000" fill-opacity="0.3">@</text><text transform="translate(1740.82,1320.00) scale(0.964,1.000)" x="0" y="0" font-family="Noto Sans CJK SC" font-weight="500" font-size="64" fill="#000" fill-opacity="0.3">Marshall Over</text><text transform="translate(1514.48,1316.18) scale(1.060,0.970)" x="0" y="0" font-family="Noto Sans CJK SC" font-weight="500" font-size="64" fill="#fff">知</text><text transform="translate(1580.11,1316.71) scale(1.129,0.998)" x="0" y="0" font-family="Noto Sans CJK SC" font-weight="500" font-size="64" fill="#fff">乎</text><text transform="translate(1674.75,1309.07) scale(0.950,0.969)" x="0" y="0" font-family="Noto Sans CJK SC" font-weight="500" font-size="64" fill="#fff">@</text><text transform="translate(1737.22,1316.40) scale(0.964,1.000)" x="0" y="0" font-family="Noto Sans CJK SC" font-weight="500" font-size="64" fill="#fff">Marshall Over</text>
</svg>
</body></html>
